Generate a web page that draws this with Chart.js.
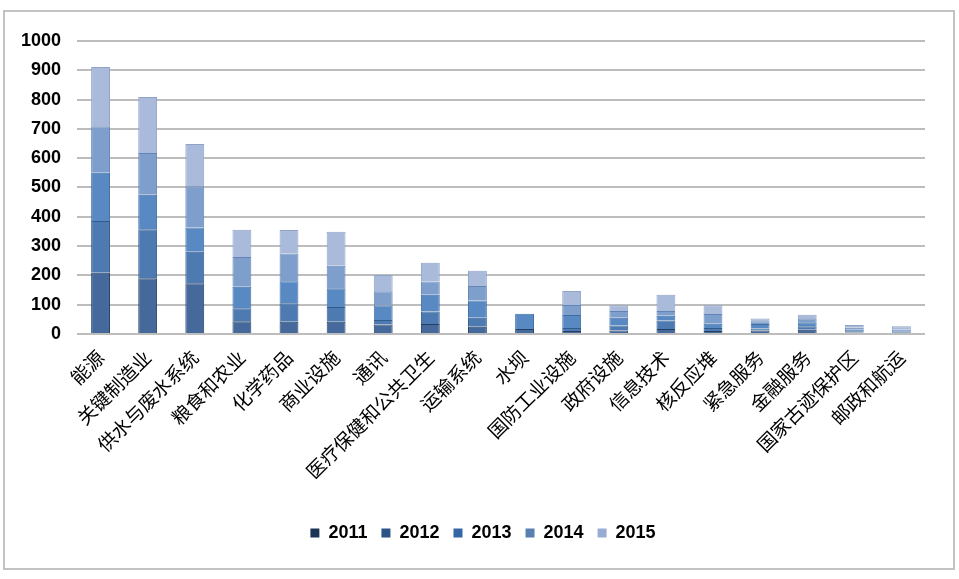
<!DOCTYPE html>
<html>
<head>
<meta charset="utf-8">
<script src="https://cdn.jsdelivr.net/npm/chart.js@4"></script>
<style>
  html, body { margin: 0; padding: 0; background: #fff; }
  #wrap { position: relative; width: 959px; height: 579px; }
  #frame { position: absolute; left: 3px; top: 10px; width: 948px; height: 556px; border: 2px solid #c3c3c3; pointer-events: none; }
  canvas { position: absolute; left: 0; top: 0; }
</style>
</head>
<body>
<div id="wrap">
  <canvas id="chart" width="959" height="579"></canvas>
  <div id="frame"></div>
</div>
<script>
var categories = [
    "能源", "关键制造业", "供水与废水系统", "粮食和农业", "化学药品", "商业设施",
    "通讯", "医疗保健和公共卫生", "运输系统", "水坝", "国防工业设施", "政府设施",
    "信息技术", "核反应堆", "紧急服务", "金融服务", "国家古迹保护区", "邮政和航运",
];

var years = ["2011", "2012", "2013", "2014", "2015"];

var values2011 = [209, 190, 173, 43, 42, 42, 32, 34, 25, 17, 10, 12, 17, 10, 12, 14, 5, 3];
var values2012 = [177, 167, 108, 45, 63, 50, 16, 43, 30, 0, 10, 17, 29, 10, 7, 12, 4, 3];
var values2013 = [164, 118, 82, 73, 75, 64, 49, 57, 59, 52, 45, 26, 16, 15, 15, 14, 5, 3];
var values2014 = [159, 143, 141, 102, 95, 77, 49, 45, 50, 0, 34, 23, 16, 33, 9, 14, 7, 5];
var values2015 = [202, 191, 144, 93, 80, 116, 55, 64, 52, 0, 48, 20, 56, 30, 10, 12, 10, 12];

var yTicks = [0, 100, 200, 300, 400, 500, 600, 700, 800, 900, 1000];

var fills = ["#44699a", "#4d7ab1", "#5889c2", "#7e9ecc", "#a9bada"];
var edges = ["#253f63", "#335c8e", "#3f6ea6", "#6584b6", "#8fa3c9"];
var swatches = ["#1c3557", "#2a5386", "#3467a6", "#5a7fb1", "#98acd4"];

var series = [values2011, values2012, values2013, values2014, values2015];

var datasets = years.map(function (year, i) {
    return {
        label: year,
        data: series[i],
        backgroundColor: fills[i],
        borderColor: edges[i],
        borderWidth: 1,
        barPercentage: 0.4,
        categoryPercentage: 1,
    };
});

// nudge the legend a little to the right, like the original
var legendShift = {
    id: "legendShift",
    afterLayout: function (chart) {
        chart.legend.left += 10;
        chart.legend.right += 10;
    },
};

var ctx = document.getElementById("chart").getContext("2d");

var config = {
    type: "bar",
    data: {
        labels: categories,
        datasets: datasets,
    },
    options: {
        responsive: false,
        animation: false,
        layout: {
            padding: { left: 21, right: 34, top: 41, bottom: 27 },
        },
        plugins: {
            legend: {
                position: "bottom",
                labels: {
                    boxWidth: 9,
                    boxHeight: 9,
                    padding: 14,
                    color: "#000",
                    font: { family: "'Liberation Sans', Arial, sans-serif", size: 18, weight: "bold" },
                    generateLabels: function (chart) {
                        var items = Chart.defaults.plugins.legend.labels.generateLabels(chart);
                        items.forEach(function (item, i) {
                            item.fillStyle = swatches[i];
                            item.strokeStyle = swatches[i];
                            item.lineWidth = 0;
                        });
                        return items;
                    },
                },
            },
            tooltip: { enabled: false },
        },
        scales: {
            x: {
                stacked: true,
                grid: { display: false, drawTicks: false },
                border: { display: false },
                afterFit: function (axis) {
                    axis.height += 15;
                    // rotated labels may hang past the plot edge
                    axis.paddingLeft = 0;
                    axis.paddingRight = 0;
                },
                ticks: {
                    maxRotation: 45,
                    minRotation: 45,
                    autoSkip: false,
                    padding: 12,
                    color: "#000",
                    font: { family: "'Noto Sans CJK SC', sans-serif", size: 19 },
                },
            },
            y: {
                stacked: true,
                min: 0,
                max: 1000,
                afterBuildTicks: function (axis) {
                    axis.ticks = yTicks.map(function (v) { return { value: v }; });
                },
                afterFit: function (axis) {
                    axis.width = 56;
                },
                grid: { color: "#bdbdbd", lineWidth: 2, drawTicks: false },
                border: { display: false },
                ticks: {
                    padding: 16,
                    color: "#000",
                    font: { family: "'Liberation Sans', Arial, sans-serif", size: 18, weight: "bold" },
                    callback: function (value) {
                        return String(value);
                    },
                },
            },
        },
    },
    plugins: [legendShift],
};

var chart = new Chart(ctx, config);
</script>
</body>
</html>
